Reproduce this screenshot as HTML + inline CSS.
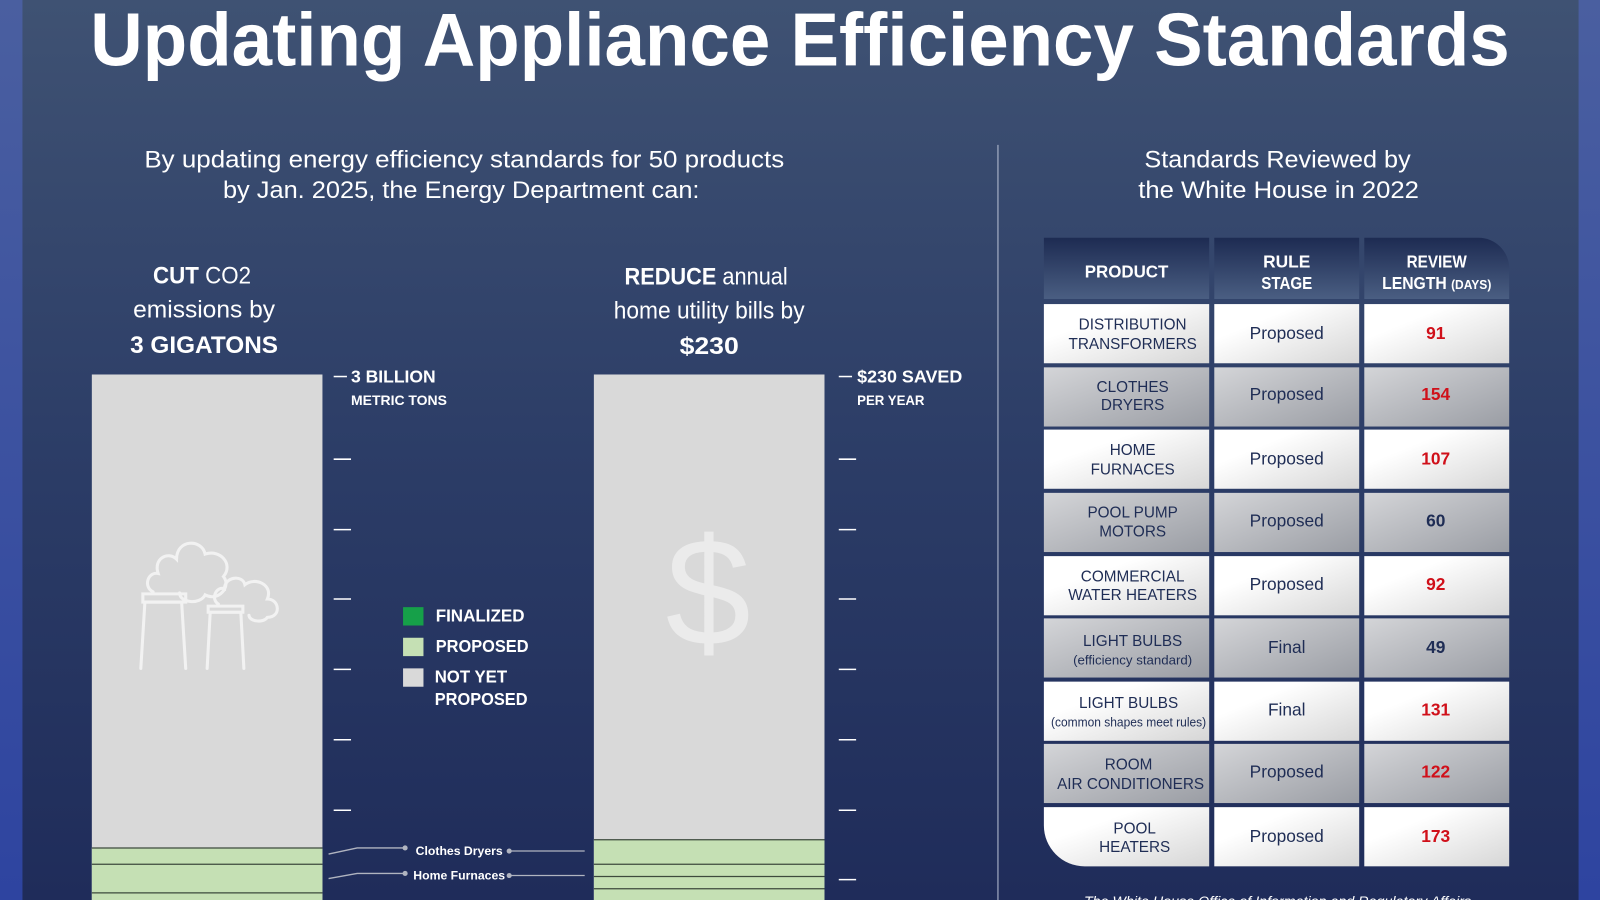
<!DOCTYPE html>
<html><head><meta charset="utf-8"><style>
html,body{margin:0;padding:0;width:1600px;height:900px;overflow:hidden;background:#2b3b66}
svg{display:block}
text{font-family:"Liberation Sans",sans-serif}
</style></head><body>
<svg width="1600" height="900" viewBox="0 0 1568 882" xmlns="http://www.w3.org/2000/svg">
<defs>
<linearGradient id="bg" x1="0" y1="0" x2="0" y2="1">
<stop offset="0" stop-color="#3f5273"/><stop offset="0.5" stop-color="#2c3d67"/><stop offset="1" stop-color="#1f2c5a"/></linearGradient>
<linearGradient id="side" x1="0" y1="0" x2="0" y2="1">
<stop offset="0" stop-color="#4a5fa0"/><stop offset="1" stop-color="#2e44a0"/></linearGradient>
<linearGradient id="hdr" x1="0" y1="0" x2="0" y2="1">
<stop offset="0" stop-color="#1d2b52"/><stop offset="1" stop-color="#4a5e82"/></linearGradient>
<linearGradient id="wr" x1="0" y1="0" x2="1" y2="1">
<stop offset="0.3" stop-color="#ffffff"/><stop offset="1" stop-color="#d6d6d6"/></linearGradient>
<linearGradient id="gr" x1="0" y1="0" x2="1" y2="1">
<stop offset="0" stop-color="#d4d5d8"/><stop offset="1" stop-color="#9a9da4"/></linearGradient>
</defs>
<rect width="1568" height="882" fill="url(#bg)"/>
<rect x="0" y="0" width="22" height="882" fill="url(#side)"/>
<rect x="1547" y="0" width="21" height="882" fill="url(#side)"/>

<text x="784" y="64" font-size="74" font-weight="bold" fill="#fff" text-anchor="middle" textLength="1391" lengthAdjust="spacingAndGlyphs">Updating Appliance Efficiency Standards</text>

<g fill="#fff" font-size="24" text-anchor="middle">
<text x="455" y="164" textLength="627" lengthAdjust="spacingAndGlyphs">By updating energy efficiency standards for 50 products</text>
<text x="452" y="194" textLength="467" lengthAdjust="spacingAndGlyphs">by Jan. 2025, the Energy Department can:</text>
<text x="1252" y="164" textLength="261" lengthAdjust="spacingAndGlyphs">Standards Reviewed by</text>
<text x="1253" y="194" textLength="275" lengthAdjust="spacingAndGlyphs">the White House in 2022</text>
<text x="198" y="278" textLength="96" lengthAdjust="spacingAndGlyphs"><tspan font-weight="bold">CUT</tspan> CO2</text>
<text x="200" y="311" textLength="139" lengthAdjust="spacingAndGlyphs">emissions by</text>
<text x="200" y="346" font-weight="bold" textLength="145" lengthAdjust="spacingAndGlyphs">3 GIGATONS</text>
<text x="692" y="279" textLength="160" lengthAdjust="spacingAndGlyphs"><tspan font-weight="bold">REDUCE</tspan> annual</text>
<text x="695" y="312" textLength="187" lengthAdjust="spacingAndGlyphs">home utility bills by</text>
<text x="695" y="347" font-weight="bold" textLength="58" lengthAdjust="spacingAndGlyphs">$230</text>
</g>
<line x1="978" y1="142" x2="978" y2="882" stroke="#b8c0d4" stroke-width="1"/>

<!-- bars -->
<rect x="90" y="367" width="226" height="515" fill="#d9d9d9"/>
<rect x="90" y="831" width="226" height="51" fill="#c5e0b4"/>
<g stroke="#3d4a3d" stroke-width="1.2"><line x1="90" y1="831" x2="316" y2="831"/><line x1="90" y1="847" x2="316" y2="847"/><line x1="90" y1="875" x2="316" y2="875"/></g>
<rect x="582" y="367" width="226" height="515" fill="#d9d9d9"/>
<rect x="582" y="823" width="226" height="59" fill="#c5e0b4"/>
<g stroke="#3d4a3d" stroke-width="1.2"><line x1="582" y1="823" x2="808" y2="823"/><line x1="582" y1="847" x2="808" y2="847"/><line x1="582" y1="859" x2="808" y2="859"/><line x1="582" y1="871" x2="808" y2="871"/></g>

<!-- icons -->
<g fill="none" stroke="#f2f2f2" stroke-width="3" stroke-linecap="round">
<path d="M138 655 L142 590 L178 590 L182 655"/><path d="M140 582 h42 v8 h-42 z"/>
<path d="M150 580 c-10 -5 -5 -20 5 -18 c-5 -15 10 -22 18 -14 c0 -20 25 -20 28 -5 c15 -5 28 10 18 22 c8 10 -5 25 -18 18 c-5 10 -25 8 -25 -2"/>
<path d="M203 655 L206 600 L236 600 L239 655"/><path d="M204 594 h34 v6 h-34 z"/>
<path d="M214 592 c-8 -5 -2 -18 6 -15 c0 -12 18 -14 20 -4 c10 -8 28 0 22 14 c12 0 14 18 0 18 c-4 6 -18 4 -18 -2"/>
</g>
<text x="694" y="632" font-size="150" fill="#ebebeb" text-anchor="middle">$</text>

<!-- ticks -->
<g stroke="#fff" stroke-width="1.5">
<line x1="327" y1="369" x2="340" y2="369"/><line x1="822" y1="369" x2="835" y2="369"/>
<line x1="327" y1="450" x2="344" y2="450"/><line x1="327" y1="519" x2="344" y2="519"/><line x1="327" y1="587" x2="344" y2="587"/><line x1="327" y1="656" x2="344" y2="656"/><line x1="327" y1="725" x2="344" y2="725"/><line x1="327" y1="794" x2="344" y2="794"/>
<line x1="822" y1="450" x2="839" y2="450"/><line x1="822" y1="519" x2="839" y2="519"/><line x1="822" y1="587" x2="839" y2="587"/><line x1="822" y1="656" x2="839" y2="656"/><line x1="822" y1="725" x2="839" y2="725"/><line x1="822" y1="794" x2="839" y2="794"/><line x1="822" y1="862" x2="839" y2="862"/>
</g>
<g fill="#fff" font-weight="bold">
<text x="344" y="375" font-size="17" textLength="83" lengthAdjust="spacingAndGlyphs">3 BILLION</text>
<text x="344" y="397" font-size="14" textLength="94" lengthAdjust="spacingAndGlyphs">METRIC TONS</text>
<text x="840" y="375" font-size="17" textLength="103" lengthAdjust="spacingAndGlyphs">$230 SAVED</text>
<text x="840" y="397" font-size="14" textLength="66" lengthAdjust="spacingAndGlyphs">PER YEAR</text>
</g>

<!-- legend -->
<rect x="395" y="595" width="20" height="18" fill="#16a049"/>
<rect x="395" y="625" width="20" height="18" fill="#c5e0b4"/>
<rect x="395" y="655" width="20" height="18" fill="#d9d9d9"/>
<g fill="#fff" font-size="17" font-weight="bold">
<text x="427" y="609" textLength="87" lengthAdjust="spacingAndGlyphs">FINALIZED</text><text x="427" y="639" textLength="91" lengthAdjust="spacingAndGlyphs">PROPOSED</text>
<text x="426" y="669" textLength="71" lengthAdjust="spacingAndGlyphs">NOT YET</text><text x="426" y="691" textLength="91" lengthAdjust="spacingAndGlyphs">PROPOSED</text>
</g>

<!-- annotations -->
<g stroke="#b0b4c0" stroke-width="1.3" fill="none">
<path d="M322 837 L350 831 L397 831"/><line x1="499" y1="834" x2="573" y2="834"/>
<path d="M322 861 L350 856 L397 856"/><line x1="499" y1="858" x2="573" y2="858"/>
</g>
<g fill="#b0b4c0"><circle cx="397" cy="831" r="2.5"/><circle cx="499" cy="834" r="2.5"/><circle cx="397" cy="856" r="2.5"/><circle cx="499" cy="858" r="2.5"/></g>
<g fill="#fff" font-size="12" font-weight="bold" text-anchor="middle">
<text x="450" y="838">Clothes Dryers</text><text x="450" y="862">Home Furnaces</text>
</g>

<!-- table header -->
<rect x="1023" y="233" width="162" height="60" fill="url(#hdr)"/>
<rect x="1190" y="233" width="142" height="60" fill="url(#hdr)"/>
<path d="M1337 233 H1449 A30 30 0 0 1 1479 263 V293 H1337 Z" fill="url(#hdr)"/>
<g fill="#fff" font-weight="bold" text-anchor="middle" font-size="17">
<text x="1104" y="272" textLength="82" lengthAdjust="spacingAndGlyphs">PRODUCT</text>
<text x="1261" y="262">RULE</text><text x="1261" y="283" textLength="50" lengthAdjust="spacingAndGlyphs">STAGE</text>
<text x="1408" y="262" textLength="59" lengthAdjust="spacingAndGlyphs">REVIEW</text><text x="1408" y="283" textLength="107" lengthAdjust="spacingAndGlyphs">LENGTH <tspan font-size="13">(DAYS)</tspan></text>
</g>

<!-- rows -->
<g>
<rect x="1023" y="298" width="162" height="58" fill="url(#wr)"/><rect x="1190" y="298" width="142" height="58" fill="url(#wr)"/><rect x="1337" y="298" width="142" height="58" fill="url(#wr)"/>
<rect x="1023" y="360" width="162" height="58" fill="url(#gr)"/><rect x="1190" y="360" width="142" height="58" fill="url(#gr)"/><rect x="1337" y="360" width="142" height="58" fill="url(#gr)"/>
<rect x="1023" y="421" width="162" height="58" fill="url(#wr)"/><rect x="1190" y="421" width="142" height="58" fill="url(#wr)"/><rect x="1337" y="421" width="142" height="58" fill="url(#wr)"/>
<rect x="1023" y="483" width="162" height="58" fill="url(#gr)"/><rect x="1190" y="483" width="142" height="58" fill="url(#gr)"/><rect x="1337" y="483" width="142" height="58" fill="url(#gr)"/>
<rect x="1023" y="545" width="162" height="58" fill="url(#wr)"/><rect x="1190" y="545" width="142" height="58" fill="url(#wr)"/><rect x="1337" y="545" width="142" height="58" fill="url(#wr)"/>
<rect x="1023" y="606" width="162" height="58" fill="url(#gr)"/><rect x="1190" y="606" width="142" height="58" fill="url(#gr)"/><rect x="1337" y="606" width="142" height="58" fill="url(#gr)"/>
<rect x="1023" y="668" width="162" height="58" fill="url(#wr)"/><rect x="1190" y="668" width="142" height="58" fill="url(#wr)"/><rect x="1337" y="668" width="142" height="58" fill="url(#wr)"/>
<rect x="1023" y="729" width="162" height="58" fill="url(#gr)"/><rect x="1190" y="729" width="142" height="58" fill="url(#gr)"/><rect x="1337" y="729" width="142" height="58" fill="url(#gr)"/>
<path d="M1023 791 H1185 V849 H1063 A40 40 0 0 1 1023 809 Z" fill="url(#wr)"/><rect x="1190" y="791" width="142" height="58" fill="url(#wr)"/><rect x="1337" y="791" width="142" height="58" fill="url(#wr)"/>
</g>
<g fill="#1f2d55" font-size="15" text-anchor="middle">
<text x="1110" y="323">DISTRIBUTION</text><text x="1110" y="342">TRANSFORMERS</text>
<text x="1110" y="384">CLOTHES</text><text x="1110" y="402">DRYERS</text>
<text x="1110" y="446">HOME</text><text x="1110" y="465">FURNACES</text>
<text x="1110" y="507">POOL PUMP</text><text x="1110" y="526">MOTORS</text>
<text x="1110" y="570">COMMERCIAL</text><text x="1110" y="588">WATER HEATERS</text>
<text x="1110" y="633">LIGHT BULBS</text><text x="1110" y="651" font-size="13">(efficiency standard)</text>
<text x="1106" y="694">LIGHT BULBS</text><text x="1106" y="712" font-size="13" textLength="152" lengthAdjust="spacingAndGlyphs">(common shapes meet rules)</text>
<text x="1106" y="754">ROOM</text><text x="1108" y="773">AIR CONDITIONERS</text>
<text x="1112" y="817">POOL</text><text x="1112" y="835">HEATERS</text>
</g>
<g fill="#1f2d55" font-size="17" text-anchor="middle">
<text x="1261" y="332">Proposed</text><text x="1261" y="392">Proposed</text><text x="1261" y="455">Proposed</text><text x="1261" y="516">Proposed</text><text x="1261" y="578">Proposed</text><text x="1261" y="640">Final</text><text x="1261" y="701">Final</text><text x="1261" y="762">Proposed</text><text x="1261" y="825">Proposed</text>
</g>
<g font-size="17" font-weight="bold" text-anchor="middle">
<text x="1407" y="332" fill="#d0101a">91</text><text x="1407" y="392" fill="#d0101a">154</text><text x="1407" y="455" fill="#d0101a">107</text><text x="1407" y="516" fill="#1f2d55">60</text><text x="1407" y="578" fill="#d0101a">92</text><text x="1407" y="640" fill="#1f2d55">49</text><text x="1407" y="701" fill="#d0101a">131</text><text x="1407" y="762" fill="#d0101a">122</text><text x="1407" y="825" fill="#d0101a">173</text>
</g>
<text x="1252" y="888" fill="#fff" font-size="14" font-style="italic" text-anchor="middle">The White House Office of Information and Regulatory Affairs</text>
</svg>
</body></html>
